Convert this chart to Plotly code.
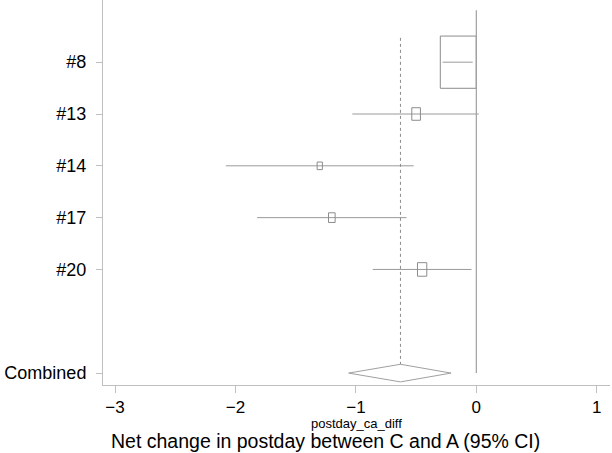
import numpy as np
import plotly.graph_objects as go

# study rows (top to bottom) and pooled estimate
studies = ['#8', '#13', '#14', '#17', '#20']
est = [-0.15, -0.50, -1.30, -1.20, -0.45]
ci_lo = [-0.28, -1.03, -2.08, -1.82, -0.86]
ci_hi = [-0.03, 0.02, -0.52, -0.58, -0.04]
weights = [84.7, 4.9, 1.8, 2.9, 5.7]

comb_label = 'Combined'
comb_est = -0.63
comb_lo = -1.06
comb_hi = -0.21

xticks = [-3, -2, -1, 0, 1]

ypos = list(range(len(studies)))
comb_y = len(studies) + 1

LINE = '#9a9a9a'
BOX = '#8c8c8c'
FONT = 'Liberation Sans, Arial, sans-serif'

fig = go.Figure()

# confidence interval lines
cx, cy = [], []
for y, lo, hi in zip(ypos, ci_lo, ci_hi):
    cx += [lo, hi, None]
    cy += [y, y, None]
fig.add_trace(go.Scatter(x=cx, y=cy, mode='lines', line=dict(color=LINE, width=1),
                         hoverinfo='skip', showlegend=False))

# weight boxes (area ~ weight)
k = 0.0162
for y, e, w in zip(ypos, est, weights):
    hw = k * np.sqrt(w)
    hh = hw * 3.38
    fig.add_shape(type='rect', x0=e - hw, x1=e + hw, y0=y - hh, y1=y + hh,
                  line=dict(color=BOX, width=1), fillcolor='rgba(255,255,255,0)')

# null line and pooled line
fig.add_shape(type='line', x0=0, x1=0, y0=-1.0, y1=comb_y,
              line=dict(color='#a0a0a0', width=1.2))
dh = 0.17
fig.add_shape(type='line', x0=comb_est, x1=comb_est, y0=-0.47, y1=comb_y - dh,
              line=dict(color='#8a8a8a', width=1, dash='3px,3px'))

# pooled diamond
fig.add_trace(go.Scatter(x=[comb_lo, comb_est, comb_hi, comb_est, comb_lo],
                         y=[comb_y, comb_y - dh, comb_y, comb_y + dh, comb_y],
                         mode='lines', line=dict(color='#a0a0a0', width=1),
                         hoverinfo='skip', showlegend=False))

fig.update_layout(
    width=612, height=453,
    margin=dict(l=103, r=2, t=0, b=68),
    plot_bgcolor='white', paper_bgcolor='white',
    font=dict(family=FONT, color='black', size=15),
    showlegend=False,
)
fig.update_xaxes(range=[-3.10, 1.11], tickvals=xticks,
                 ticktext=[str(t).replace('-', '\u2212') for t in xticks],
                 showgrid=False, zeroline=False, showline=True, linecolor='#c0c0c0',
                 linewidth=1, ticks='outside', ticklen=7, tickcolor='#c0c0c0',
                 tickfont=dict(size=17))
fig.update_yaxes(range=[6.23, -1.2], tickvals=ypos + [comb_y],
                 ticktext=studies + [comb_label],
                 showgrid=False, zeroline=False, showline=True, linecolor='#c0c0c0',
                 linewidth=1, ticks='outside', ticklen=6, tickcolor='#c0c0c0',
                 ticklabelstandoff=6, tickfont=dict(size=18))

fig.add_annotation(text='postday_ca_diff', xref='paper', yref='paper', x=0.5, y=0,
                   yshift=-38.5, showarrow=False, font=dict(size=13), yanchor='middle',
                   borderpad=0)
fig.add_annotation(text='Net change in postday between C and A (95% CI)', xref='paper',
                   yref='paper', x=0.0138, xanchor='left', y=0, yshift=-56,
                   showarrow=False, font=dict(size=19.5), yanchor='middle', borderpad=0)

fig.write_html("out.html", config={'displayModeBar': False},
               post_script="document.body.style.margin='0';")
